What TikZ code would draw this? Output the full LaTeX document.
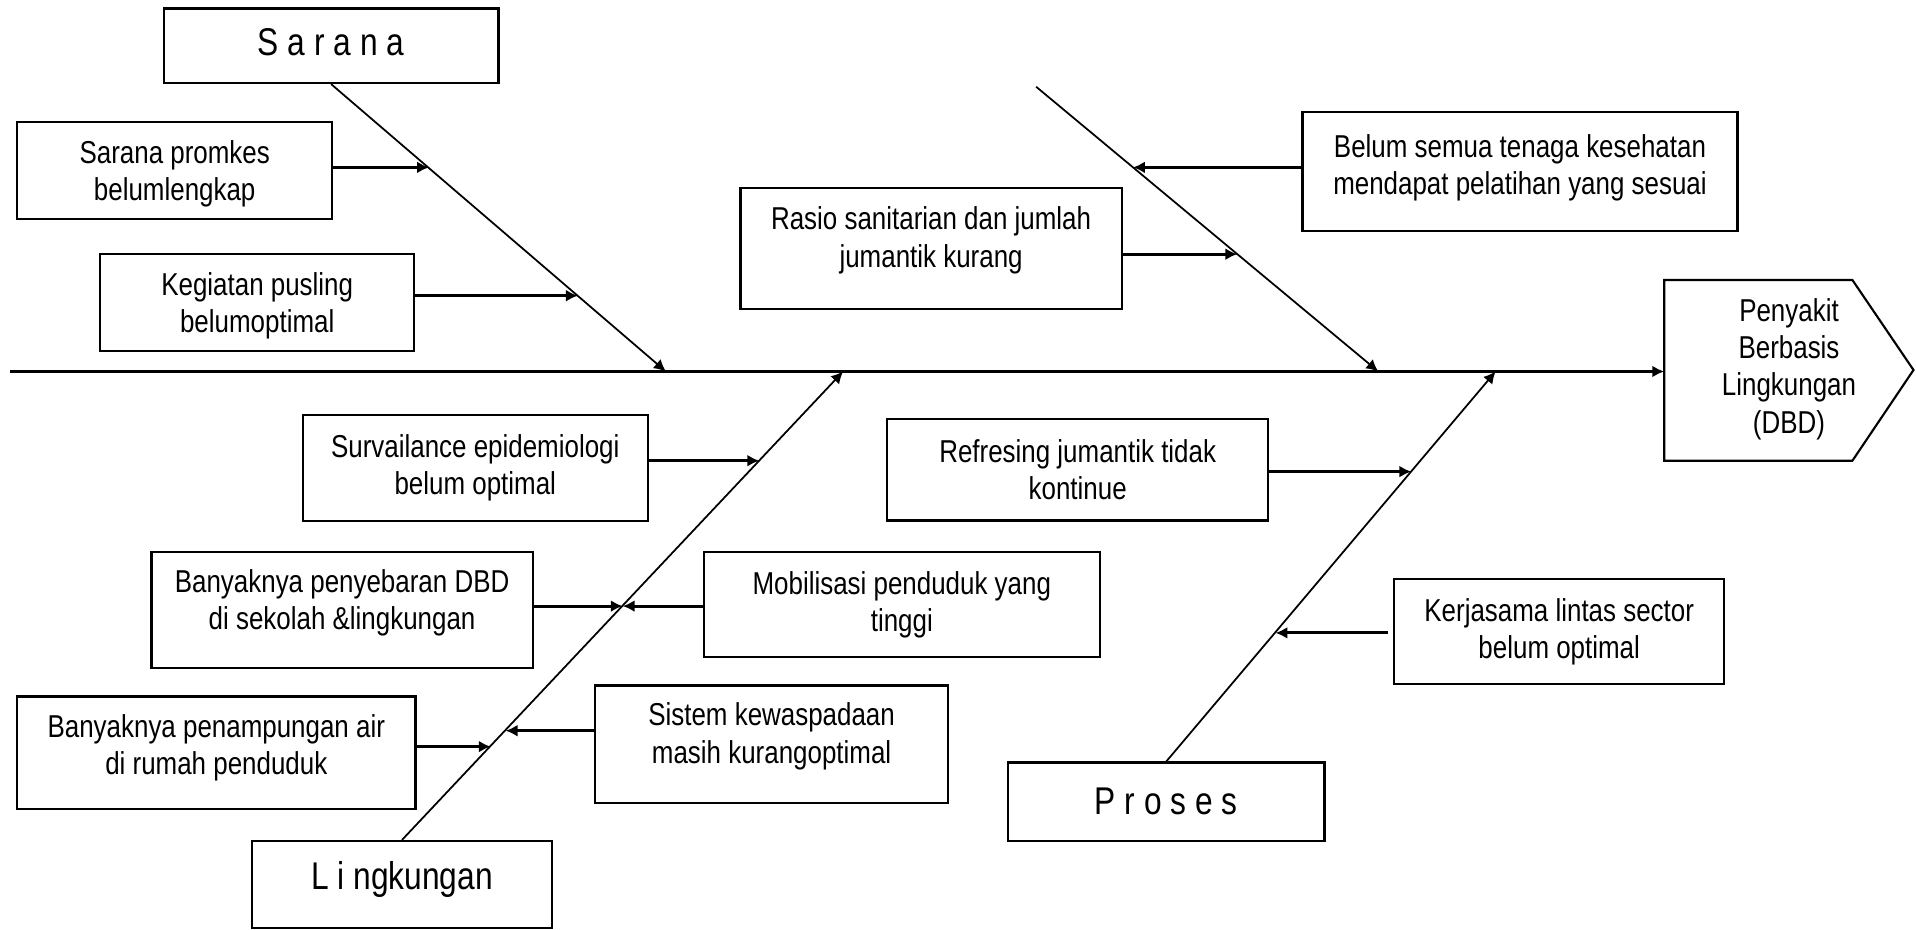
\documentclass[tikz,border=0pt]{standalone}
\usepackage{fontspec}
\setmainfont[FakeStretch=0.82]{Liberation Sans}
\usetikzlibrary{arrows.meta}

\begin{document}
\begin{tikzpicture}[
    >={Latex[length=3.4pt,width=3.4pt]},
    box/.style={draw,line width=0.6pt,align=center,inner sep=2pt,
      font=\fontsize{9}{10.6}\selectfont},
    catbox/.style={draw,line width=0.6pt,font=\fontsize{11}{13}\selectfont},
    raised/.style={text depth=#1},
    bone/.style={->,line width=0.5pt},
    twig/.style={->,line width=0.8pt}]
    \useasboundingbox (0,0) rectangle (19.16,9.29);

    % head and spine
    \draw[line width=0.6pt]
      (16.642,6.49) -- (18.524,6.49) -- (19.135,5.59) -- (18.524,4.683) -- (16.642,4.683) -- cycle;
    \node[align=center,font=\fontsize{9}{10.6}\selectfont] (head) at (17.89,5.60)
      {Penyakit\\Berbasis\\Lingkungan\\(DBD)};
    \coordinate (tail) at (0.10,5.575);
    \coordinate (headin) at (16.642,5.575);
    \draw[->,line width=0.85pt] (tail) -- (headin);

    % main categories
    \node[catbox,raised=0.075cm,minimum width=3.348cm,minimum height=0.745cm] (sarana) at (3.311,8.832) {S a r a n a};
    \node[catbox,raised=0.19cm,minimum width=3.006cm,minimum height=0.87cm] (lingkungan) at (4.020,0.445) {L i ngkungan};
    \node[catbox,minimum width=3.164cm,minimum height=0.782cm] (proses) at (11.663,1.274) {P r o s e s};
    \coordinate (tenagatop) at (10.362,8.422);

    \coordinate (sartip) at (6.659,5.575);
    \coordinate (lingtip) at (8.431,5.575);
    \coordinate (tenagatip) at (13.783,5.575);
    \coordinate (prostip) at (14.956,5.575);

    \draw[bone] (sarana.south) -- (sartip);
    \draw[bone] (tenagatop) -- (tenagatip);
    \draw[bone] (lingkungan.north) -- (lingtip);
    \draw[bone] (proses.north) -- (prostip);

    % causes
    \node[box,raised=-0.06cm,minimum width=3.153cm,minimum height=0.965cm] (promkes) at (1.747,7.586)
      {Sarana promkes\\belumlengkap};
    \node[box,raised=-0.04cm,minimum width=3.140cm,minimum height=0.965cm] (pusling) at (2.572,6.266)
      {Kegiatan pusling\\belumoptimal};
    \node[box,raised=0.14cm,minimum width=4.350cm,minimum height=1.185cm] (pelatihan) at (15.200,7.574)
      {Belum semua tenaga kesehatan\\mendapat pelatihan yang sesuai};
    \node[box,raised=0.23cm,minimum width=3.812cm,minimum height=1.209cm] (rasio) at (9.311,6.804)
      {Rasio sanitarian dan jumlah\\jumantik kurang};
    \node[box,minimum width=3.446cm,minimum height=1.055cm] (survailance) at (4.753,4.609)
      {Survailance epidemiologi\\belum optimal};
    \node[box,raised=0.22cm,minimum width=3.813cm,minimum height=1.161cm] (sebaran) at (3.421,3.187)
      {Banyaknya penyebaran DBD\\di sekolah \&lingkungan};
    \node[box,minimum width=3.959cm,minimum height=1.051cm] (mobilisasi) at (9.018,3.242)
      {Mobilisasi penduduk yang\\tinggi};
    \node[box,raised=0.16cm,minimum width=3.983cm,minimum height=1.124cm] (penampungan) at (2.163,1.763)
      {Banyaknya penampungan air\\di rumah penduduk};
    \node[box,raised=0.22cm,minimum width=3.531cm,minimum height=1.173cm] (kewaspadaan) at (7.716,1.849)
      {Sistem kewaspadaan\\masih kurangoptimal};
    \node[box,minimum width=3.812cm,minimum height=1.014cm] (refresing) at (10.777,4.592)
      {Refresing jumantik tidak\\kontinue};
    \node[box,minimum width=3.299cm,minimum height=1.051cm] (kerjasama) at (15.592,2.973)
      {Kerjasama lintas sector\\belum optimal};

    % points on the bones
    \coordinate (s1) at (4.290,7.616);
    \coordinate (s2) at (5.779,6.333);
    \coordinate (t1) at (11.330,7.616);
    \coordinate (t2) at (12.373,6.748);
    \coordinate (l1) at (7.593,4.683);
    \coordinate (l2) at (6.227,3.229);
    \coordinate (l3) at (5.056,1.983);
    \coordinate (l4) at (4.907,1.824);
    \coordinate (p1) at (14.113,4.574);
    \coordinate (p2) at (12.755,2.961);

    \draw[twig] (promkes.east |- s1) -- (s1);
    \draw[twig] (pusling.east |- s2) -- (s2);
    \draw[twig] (pelatihan.west |- t1) -- (t1);
    \draw[twig] (rasio.east |- t2) -- (t2);
    \draw[twig] (survailance.east |- l1) -- (l1);
    \draw[twig] (sebaran.east |- l2) -- (l2);
    \draw[twig] (mobilisasi.west |- l2) -- (l2);
    \draw[twig] (kewaspadaan.west |- l3) -- (l3);
    \draw[twig] (penampungan.east |- l4) -- (l4);
    \draw[twig] (refresing.east |- p1) -- (p1);
    \draw[twig] ([xshift=-0.05cm]kerjasama.west |- p2) -- (p2);
\end{tikzpicture}
\end{document}
